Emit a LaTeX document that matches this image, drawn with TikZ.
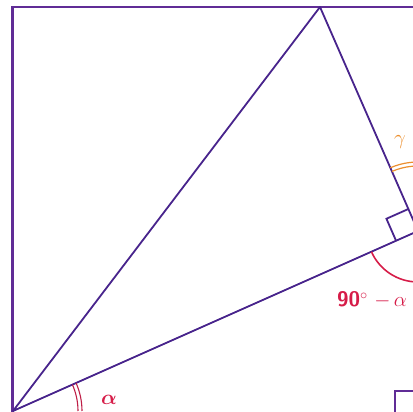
\documentclass[tikz,border=0pt]{standalone}
\usepackage{xcolor}
\usepackage{amsmath}
\usepackage{bm}
\usepackage{tikz}
\usetikzlibrary{calc}

\definecolor{framepurple}{RGB}{96,44,150}
\definecolor{linepurple}{RGB}{72,36,140}
\definecolor{anglered}{RGB}{214,28,72}
\definecolor{alphared}{RGB}{190,30,70}
\definecolor{gammaorange}{RGB}{236,142,44}

\begin{document}
\begin{tikzpicture}[x=1pt,y=1pt,
            frameline/.style={draw=framepurple,line width=2.8pt},
            sideline/.style={draw=linepurple,line width=1.8pt},
            lbl/.style={font=\fontsize{21}{24}\selectfont}]
            \useasboundingbox (0,0) rectangle (413,412);
            \clip (0,0) rectangle (413,412);

            \coordinate (A) at (13,1);
            \coordinate (B) at (320,405);
            \coordinate (C) at (418,181);

            \draw[frameline] (12.5,-20) -- (12.5,405) -- (440,405);
            \draw[frameline] (440,21) -- (395,21) -- (395,-20);

            \draw[sideline,line join=round] (A) -- (B) -- (C) -- cycle;
            \draw[sideline] ($(C)!24pt!(B)$) -- ($(C)!24pt!(B)+(C)!24pt!(A)-(C)$) -- ($(C)!24pt!(A)$);

            % angle at A
            \draw[alphared,line width=1.1pt] ($(A)+(0:65pt)$) arc[start angle=0,end angle=23.96,radius=65pt];
            \draw[alphared,line width=1.1pt] ($(A)+(0:69pt)$) arc[start angle=0,end angle=23.96,radius=69pt];
            \node[lbl,text=anglered] (alpha) at (109,12) {$\bm{\alpha}$};

            % angle at C below the side CA
            \draw[anglered,line width=1.6pt] ($(C)+(203.96:51pt)$) arc[start angle=203.96,end angle=270,radius=51pt];
            \node[lbl,text=anglered] (comp) at (372,112) {\textsf{\textbf{90}}$^\circ$\ $-\,\alpha$};

            % angle at C beside the side CB
            \draw[gammaorange,line width=1.2pt] ($(C)+(113.63:65pt)$) arc[start angle=113.63,end angle=80,radius=65pt];
            \draw[gammaorange,line width=1.2pt] ($(C)+(113.63:69pt)$) arc[start angle=113.63,end angle=80,radius=69pt];
            \node[lbl,text=gammaorange] (gamma) at (400,270) {$\gamma$};
\end{tikzpicture}
\end{document}
